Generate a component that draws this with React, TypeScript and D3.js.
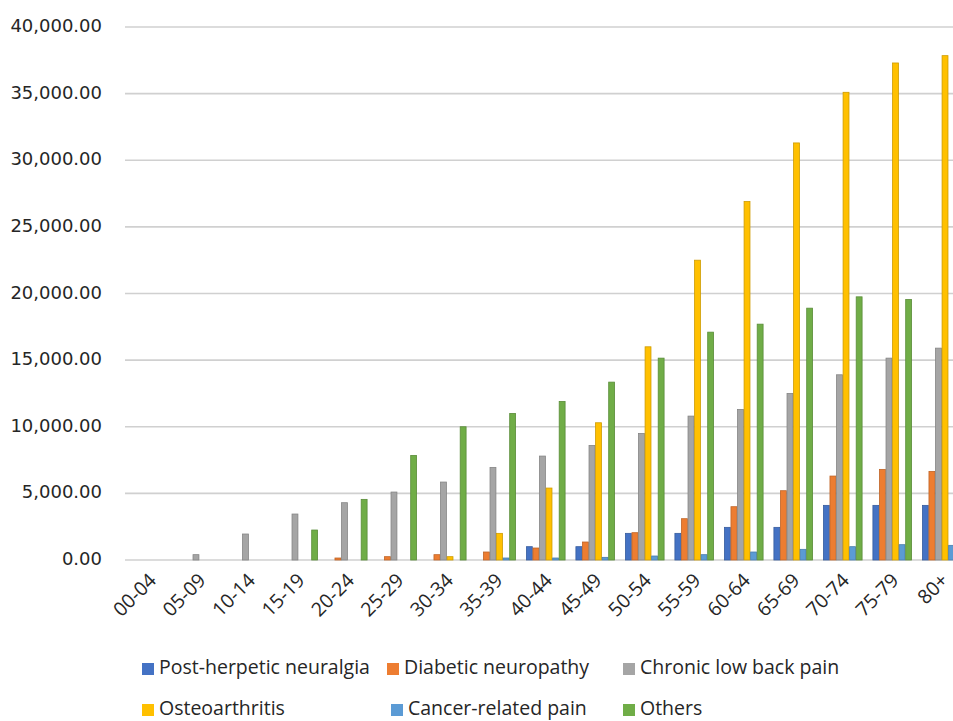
import React from "react";
import * as d3 from "d3";

const categories = ["00-04","05-09","10-14","15-19","20-24","25-29","30-34","35-39","40-44","45-49","50-54","55-59","60-64","65-69","70-74","75-79","80+"];
const seriesNames = ["Post-herpetic neuralgia","Diabetic neuropathy","Chronic low back pain","Osteoarthritis","Cancer-related pain","Others"];
const postHerpetic = [0,0,0,0,0,0,0,0,1000,1000,2000,2000,2450,2450,4100,4100,4100];
const diabetic = [0,0,0,0,150,250,400,600,900,1350,2050,3100,4000,5200,6300,6800,6650];
const chronicLBP = [0,400,1950,3450,4300,5100,5850,6950,7800,8600,9500,10800,11300,12500,13900,15150,15900];
const osteo = [0,0,0,0,0,0,250,2000,5400,10300,16000,22500,26900,31300,35100,37300,37850];
const cancer = [0,0,0,0,0,0,0,150,150,200,300,400,600,800,1000,1150,1100];
const others = [0,0,0,2250,4550,7850,10000,11000,11900,13350,15150,17100,17700,18900,19750,19550,19000];
const yTicks = [0,5000,10000,15000,20000,25000,30000,35000,40000];

const seriesValues = [postHerpetic, diabetic, chronicLBP, osteo, cancer, others];
const colors = ["#4472C4","#ED7D31","#A5A5A5","#FFC000","#5B9BD5","#70AD47"];

// legend layout (positions only)
const legendPos = [
  { x: 142, y: 669 }, { x: 387, y: 669 }, { x: 623, y: 669 },
  { x: 142, y: 710 }, { x: 391, y: 710 }, { x: 623, y: 710 },
];

export default function App() {
  const W = 953, H = 721;
  const left = 125, right = 966.5, top = 27, bottom = 560;
  const p = 0.192;
  const x0 = d3.scaleBand<string>().domain(categories).range([left, right]).paddingInner(p).paddingOuter(p / 2);
  const x1 = d3.scaleBand<string>().domain(seriesNames).range([0, x0.bandwidth()]).padding(0.1);
  const y = d3.scaleLinear().domain([0, 40000]).range([bottom, top]);
  const fmt = d3.format(",.2f");

  return (
    <svg width={W} height={H} style={{ position: "absolute", left: 0, top: 0, background: "#fff" }}>
      <rect x={0} y={0} width={W} height={H} fill="#fff" />
      {yTicks.map((t) => (
        <g key={t}>
          <line x1={left} x2={W} y1={y(t)} y2={y(t)} stroke="#d0d0d0" strokeWidth={1.6} />
          <text x={102} y={y(t)} textAnchor="end" dominantBaseline="middle" fontFamily="DejaVu Sans" fontSize={18} fill="#262626">
            {fmt(t)}
          </text>
        </g>
      ))}
      {seriesValues.map((vals, si) => (
        <g key={si}>
          {vals.map((v, ci) => {
            if (v <= 0) return null;
            const bx = (x0(categories[ci]) as number) + (x1(seriesNames[si]) as number);
            const by = y(v);
            return (
              <rect key={ci} x={bx} y={by} width={x1.bandwidth()} height={bottom - by}
                fill={colors[si]} stroke={d3.color(colors[si])!.darker(0.6).toString()} strokeWidth={0.8} />
            );
          })}
        </g>
      ))}
      {categories.map((c) => {
        const cx = (x0(c) as number) + x0.bandwidth() / 2 + 4;
        return (
          <text key={c} transform={`translate(${cx},${578}) rotate(-45)`} textAnchor="end" dominantBaseline="middle"
            fontFamily="Open Sans" fontSize={19.5} fill="#262626">
            {c}
          </text>
        );
      })}
      {seriesNames.map((s, i) => (
        <g key={s}>
          <rect x={legendPos[i].x} y={legendPos[i].y - 6} width={12} height={12} fill={colors[i]} />
          <text x={legendPos[i].x + 17} y={legendPos[i].y} dominantBaseline="middle" fontFamily="Open Sans" fontSize={19.5} fill="#262626">
            {s}
          </text>
        </g>
      ))}
    </svg>
  );
}
